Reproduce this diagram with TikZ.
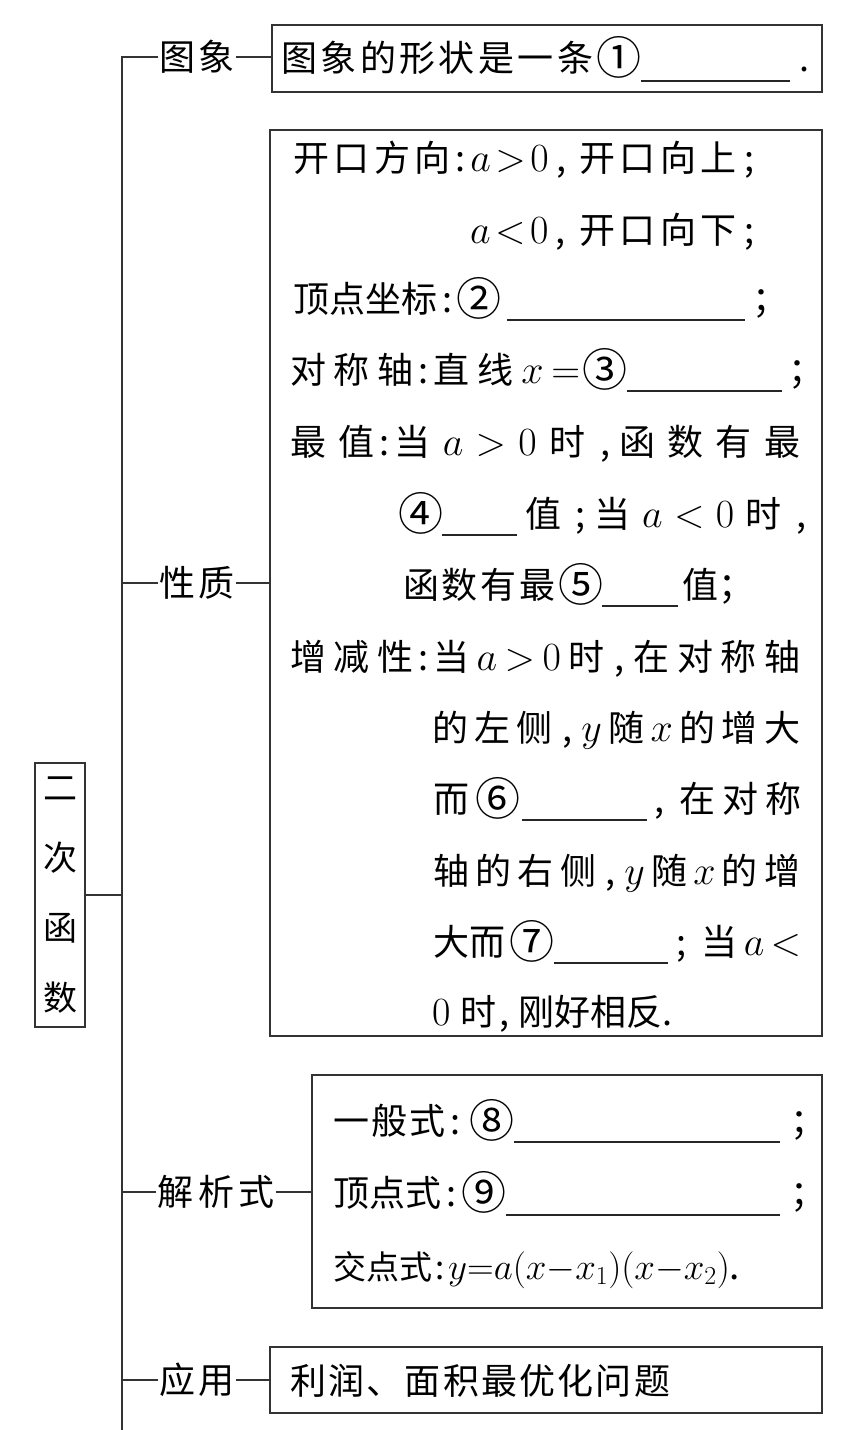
\documentclass[tikz,border=0pt]{standalone}
\usepackage{fix-cm}
\usepackage[no-math]{fontspec}
\setmainfont{Noto Sans CJK SC}
\newcommand{\G}{\hspace{0pt plus 1fil}}
\newcommand{\SP}[2]{\makebox[#1pt][s]{#2}}
\newcommand{\m}[1]{{\fontsize{40}{40}\selectfont$#1$}}
\newcommand{\cln}{\makebox[20pt][c]{:}}
\newcommand{\cm}{\makebox[22pt][l]{\hspace{3pt},}}
\newcommand{\sm}{\makebox[22pt][l]{\hspace{3pt};}}
\tikzset{
  ln/.style={line width=1.2pt, draw=black!80},
  bx/.style={ln, rectangle, inner sep=0pt},
  lab/.style={inner sep=1pt, font=\fontsize{36}{36}\selectfont},
  tx/.style={inner sep=0pt, anchor=base west, font=\fontsize{36}{36}\selectfont},
  tsm/.style={tx, font=\fontsize{33}{33}\selectfont},
  cn/.style={inner sep=0pt, anchor=west, font=\fontsize{45}{45}\selectfont},
  blank/.style={line width=1.2pt, draw=black!85},
}
\begin{document}
\begin{tikzpicture}[x=1pt,y=-1pt]
\useasboundingbox (0,0) rectangle (842,1430);
% root
\node[bx, minimum width=50pt, minimum height=264pt, align=center,
      font=\fontsize{34}{70}\selectfont] (root) at (60,895) {二\\次\\函\\数};
% trunk
\coordinate (top) at (122,57);
\coordinate (bot) at (122,1430);
% labels
\node[lab] (lab1) at (197,57) {\SP{75}{图\G 象}};
\node[lab] (lab2) at (197,583) {\SP{75}{性\G 质}};
\node[lab] (lab3) at (216,1192) {\SP{117}{解\G 析\G 式}};
\node[lab] (lab4) at (197,1380) {\SP{75}{应\G 用}};
% boxes
\node[bx, minimum width=550pt, minimum height=67pt] (box1) at (547,58.5) {};
\node[bx, minimum width=552pt, minimum height=906pt] (box2) at (546,583) {};
\node[bx, minimum width=510pt, minimum height=233pt] (box3) at (567,1191.5) {};
\node[bx, minimum width=552pt, minimum height=66pt] (box4) at (546,1380) {};
% connectors
\draw[ln] (lab1.west) -- (top) -- (bot);
\draw[ln] (lab2.west) -- (lab2.west -| top);
\draw[ln] (lab3.west) -- (lab3.west -| top);
\draw[ln] (lab4.west) -- (lab4.west -| top);
\draw[ln] (root.east) -- (root.east -| top);
\draw[ln] (lab1.east) -- (lab1.east -| box1.west);
\draw[ln] (lab2.east) -- (lab2.east -| box2.west);
\draw[ln] (lab3.east) -- (lab3.east -| box3.west);
\draw[ln] (lab4.east) -- (lab4.east -| box4.west);
% box 1
\node[tx] (a1) at (281,71) {\SP{312}{图\G 象\G 的\G 形\G 状\G 是\G 一\G 条}};
\node[cn] (n1) at (596,57) {①};
\draw[blank] (641,81) -- (790,81);
\node[tx] (a2) at (799,71) {.};
% box 2
\node[tx] (b1) at (293,171) {\SP{470}{开\G 口\G 方\G 向\cln\m{a}\G\m{>}\G\m{0}\G\cm\G 开\G 口\G 向\G 上\G\sm}};
\node[tx] (b2) at (470,243) {\SP{293}{\m{a}\G\m{<}\G\m{0}\G\cm\G 开\G 口\G 向\G 下\G\sm}};
\node[tx] (b3) at (293,312) {\SP{162}{顶\G 点\G 坐\G 标\cln}};
\node[cn] (n2) at (456,298) {②};
\draw[blank] (507,320) -- (745,320);
\node[tx] (b3r) at (752,312) {；};
\node[tx] (b4) at (290,383) {\SP{290}{对\G 称\G 轴\cln 直\G 线\G\m{x}\G\m{=}}};
\node[cn] (n3) at (582,369) {③};
\draw[blank] (627,391) -- (782,391);
\node[tx] (b4r) at (788,383) {；};
\node[tx] (b5) at (290,455) {\SP{510}{最\G 值\cln 当\G\m{a}\G\m{>}\G\m{0}\G 时\G\cm 函\G 数\G 有\G 最}};
\node[cn] (n4) at (398,513) {④};
\draw[blank] (442,535) -- (517,535);
\node[tx] (b6r) at (525,527) {\SP{290}{值\G\sm 当\G\m{a}\G\m{<}\G\m{0}\G 时\G\cm}};
\node[tx] (b7) at (403,598) {\SP{152}{函\G 数\G 有\G 最}};
\node[cn] (n5) at (558,584) {⑤};
\draw[blank] (602,606) -- (678,606);
\node[tx] (b7r) at (682,598) {值；};
\node[tx] (b8) at (290,670) {\SP{510}{增\G 减\G 性\cln 当\G\m{a}\G\m{>}\G\m{0}\G 时\G\cm 在\G 对\G 称\G 轴}};
\node[tx] (b9) at (432,741) {\SP{368}{的\G 左\G 侧\G\cm\m{y}\G 随\G\m{x}\G 的\G 增\G 大}};
\node[tx] (b10) at (433,812) {而};
\node[cn] (n6) at (475,798) {⑥};
\draw[blank] (522,820) -- (647,820);
\node[tx] (b10r) at (651,812) {\SP{150}{\cm\G 在\G 对\G 称}};
\node[tx] (b11) at (433,884) {\SP{367}{轴\G 的\G 右\G 侧\G\cm\m{y}\G 随\G\m{x}\G 的\G 增}};
\node[tx] (b12) at (433,955) {\SP{70}{大\G 而}};
\node[cn] (n7) at (509,941) {⑦};
\draw[blank] (554,963) -- (668,963);
\node[tx] (b12r) at (673,955) {\SP{128}{\sm\G 当\G\m{a}\G\m{<}}};
\node[tx] (b13) at (432,1025) {\m{0}\hspace{10pt}时\cm 刚好相反.};
% box 3
\node[tx] (c1) at (333,1134) {\SP{132}{一\G 般\G 式\cln}};
\node[cn] (n8) at (469,1120) {⑧};
\draw[blank] (514,1142) -- (780,1142);
\node[tx] (c1r) at (790,1134) {；};
\node[tx] (c2) at (333,1206) {\SP{126}{顶\G 点\G 式\cln}};
\node[cn] (n9) at (461,1192) {⑨};
\draw[blank] (506,1215) -- (780,1215);
\node[tx] (c2r) at (790,1206) {；};
\node[tsm] (c3) at (333,1279) {交点式\makebox[16pt][c]{:}{\fontsize{37}{37}\selectfont$y{=}a(x{-}x_1)(x{-}x_2)$.}};
% box 4
\node[tx] (d1) at (290,1394) {\SP{380}{利\G 润\G 、\G 面\G 积\G 最\G 优\G 化\G 问\G 题}};
\end{tikzpicture}
\end{document}
